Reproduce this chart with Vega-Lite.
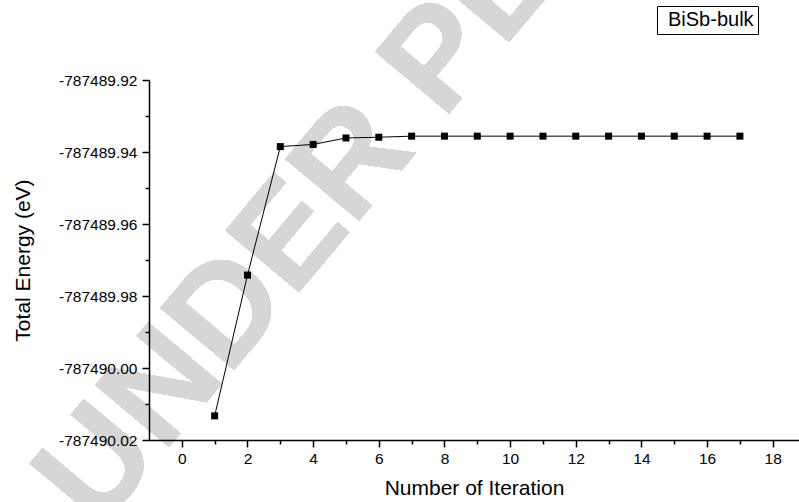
{
  "$schema": "https://vega.github.io/schema/vega-lite/v6.json",
  "width": 650,
  "height": 360,
  "autosize": {"type": "none"},
  "padding": {"left": 149, "top": 80, "right": 0, "bottom": 62},
  "background": "white",
  "config": {
    "view": {"stroke": null},
    "font": "Liberation Sans",
    "axis": {"labelFont": "Liberation Sans", "titleFont": "Liberation Sans", "labelColor": "black", "titleColor": "black", "titleFontWeight": "normal", "domainColor": "black", "tickColor": "black", "grid": false}
  },
  "data": {
    "values": [
      {"iteration": 1, "energy": -787490.0133},
      {"iteration": 2, "energy": -787489.9742},
      {"iteration": 3, "energy": -787489.9385},
      {"iteration": 4, "energy": -787489.9379},
      {"iteration": 5, "energy": -787489.9361},
      {"iteration": 6, "energy": -787489.9359},
      {"iteration": 7, "energy": -787489.9356},
      {"iteration": 8, "energy": -787489.9356},
      {"iteration": 9, "energy": -787489.9356},
      {"iteration": 10, "energy": -787489.9356},
      {"iteration": 11, "energy": -787489.9356},
      {"iteration": 12, "energy": -787489.9356},
      {"iteration": 13, "energy": -787489.9356},
      {"iteration": 14, "energy": -787489.9356},
      {"iteration": 15, "energy": -787489.9356},
      {"iteration": 16, "energy": -787489.9356},
      {"iteration": 17, "energy": -787489.9356}
    ]
  },
  "resolve": {"axis": {"x": "independent", "y": "independent"}},
  "layer": [
    {
      "mark": {"type": "text", "text": "UNDER PEER REVIEW", "font": "Liberation Sans", "fontWeight": "bold", "fontSize": 140, "angle": 310, "align": "left", "baseline": "alphabetic", "fill": "#d6d6d6"},
      "encoding": {
        "x": {"datum": -2.55, "type": "quantitative", "scale": {"domain": [-1, 18.8], "nice": false, "zero": false}, "axis": null},
        "y": {"datum": -787490.0455, "type": "quantitative", "scale": {"domain": [-787490.02, -787489.92], "nice": false, "zero": false}, "axis": null}
      }
    },
    {
      "mark": {"type": "line", "color": "black", "strokeWidth": 1},
      "encoding": {
        "x": {"field": "iteration", "type": "quantitative", "scale": {"domain": [-1, 18.8], "nice": false, "zero": false},
          "axis": {"zindex": 2, "orient": "bottom", "values": [0, 2, 4, 6, 8, 10, 12, 14, 16, 18], "tickSize": 7, "tickWidth": 1.5, "domainWidth": 1.5, "labelFontSize": 15.5, "labelPadding": 4, "title": "Number of Iteration", "titleFontSize": 21, "titlePadding": 11}},
        "y": {"field": "energy", "type": "quantitative", "scale": {"domain": [-787490.02, -787489.92], "nice": false, "zero": false},
          "axis": {"zindex": 2, "orient": "left", "values": [-787490.02, -787490.00, -787489.98, -787489.96, -787489.94, -787489.92], "labelExpr": "replace(format(datum.value, '.2f'), '\u2212', '-')", "tickSize": 7, "tickWidth": 1.5, "domainWidth": 1.5, "labelFontSize": 15.5, "labelPadding": 5, "title": "Total Energy (eV)", "titleFontSize": 21, "titlePadding": 25}}
      }
    },
    {
      "mark": {"type": "point", "shape": "square", "filled": true, "size": 49, "opacity": 1},
      "encoding": {
        "x": {"field": "iteration", "type": "quantitative", "scale": {"domain": [-1, 18.8], "nice": false, "zero": false},
          "axis": {"zindex": 2, "orient": "bottom", "values": [1, 3, 5, 7, 9, 11, 13, 15, 17], "tickSize": 4, "tickWidth": 1.5, "domain": false, "labels": false, "title": null}},
        "y": {"field": "energy", "type": "quantitative", "scale": {"domain": [-787490.02, -787489.92], "nice": false, "zero": false},
          "axis": {"zindex": 2, "orient": "left", "values": [-787490.01, -787489.99, -787489.97, -787489.95, -787489.93], "tickSize": 4, "tickWidth": 1.5, "domain": false, "labels": false, "title": null}},
        "color": {"datum": "BiSb-bulk", "type": "nominal", "scale": {"range": ["black"]},
          "legend": {"orient": "none", "legendX": 508, "legendY": -74, "title": null, "strokeColor": "black", "fillColor": "white", "padding": 4, "cornerRadius": 0, "symbolSize": 1, "symbolOpacity": 0, "symbolStrokeWidth": 0, "labelOffset": -13, "labelFontSize": 20, "labelFont": "Liberation Sans", "labelColor": "black"}}
      }
    }
  ]
}
